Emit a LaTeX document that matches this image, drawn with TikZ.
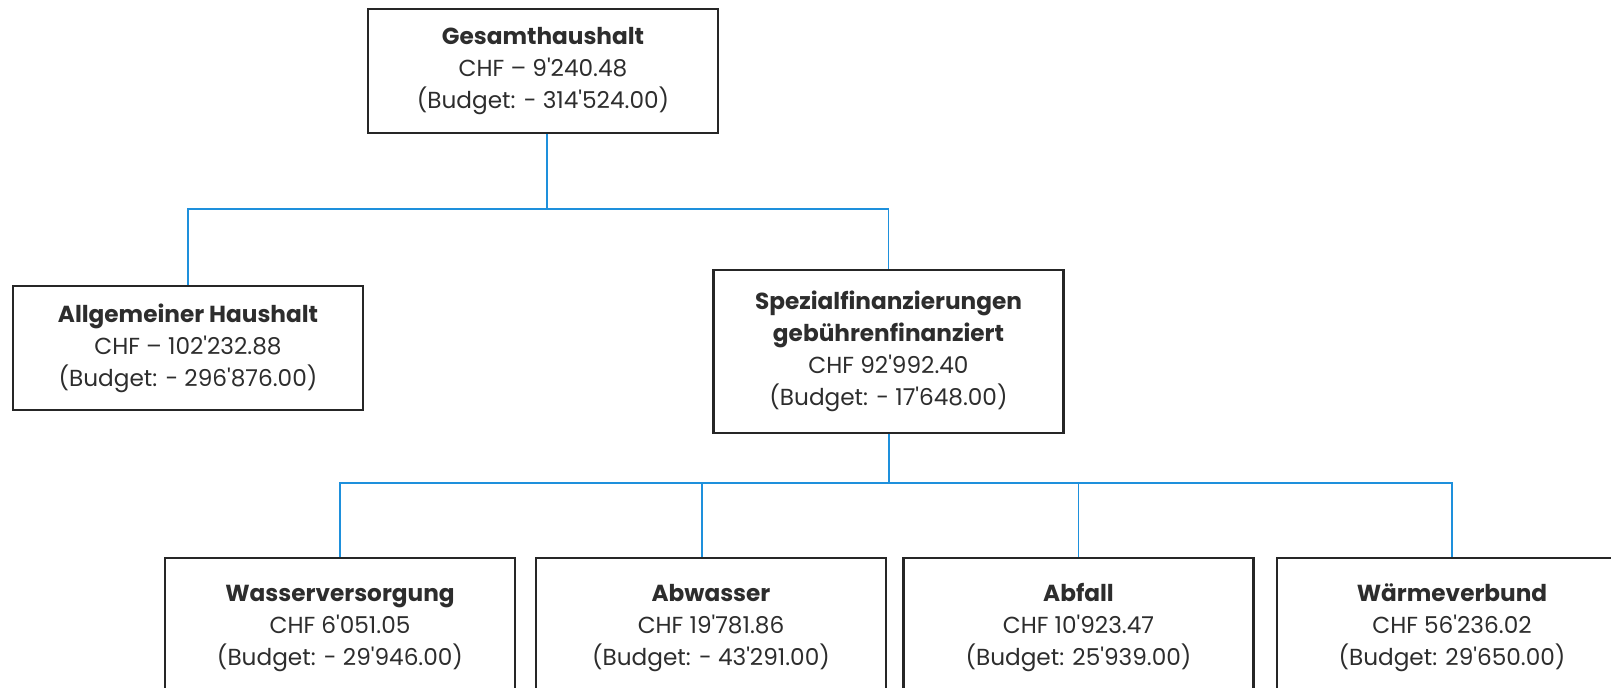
\documentclass[tikz,border=0pt]{standalone}
\usepackage{fontspec}
\setmainfont{Poppins}[Ligatures=TeXOff]
\definecolor{linkblue}{RGB}{30,144,220}
\definecolor{textgray}{RGB}{45,45,45}
\begin{document}
\begin{tikzpicture}[
x=0.02cm, y=-0.02cm,
font=\fontsize{13.2}{18.2}\selectfont,
box/.style={rectangle,draw=black!85,line width=1.3pt,text=textgray,align=center,inner sep=0pt,minimum width=7cm,minimum height=2.48cm},
highbox/.style={box,minimum height=3.26cm},
lowbox/.style={box,minimum height=2.8cm},
link/.style={draw=linkblue,line width=1.1pt},
]
\useasboundingbox (0,0) rectangle (1611,687);
\clip (0,0) rectangle (1611,687);

% Level 0
\node[box] (gesamt) at (543,71) {\textbf{Gesamthaushalt}\\CHF – 9'240.48\\(Budget: - 314'524.00)};

% Level 1
\node[box] (allg) at (188,348) {\textbf{Allgemeiner Haushalt}\\CHF – 102'232.88\\(Budget: - 296'876.00)};
\node[highbox] (spez) at (888.5,351.5) {\textbf{Spezialfinanzierungen}\\\textbf{gebührenfinanziert}\\CHF 92'992.40\\(Budget: - 17'648.00)};

% Level 2 (boxes run past the lower edge)
\node[lowbox] (wasser) at (340,628) {\textbf{Wasserversorgung}\\CHF 6'051.05\\(Budget: - 29'946.00)};
\node[lowbox] (abwasser) at (711,628) {\textbf{Abwasser}\\CHF 19'781.86\\(Budget: - 43'291.00)};
\node[lowbox] (abfall) at (1078.5,628) {\textbf{Abfall}\\CHF 10'923.47\\(Budget: 25'939.00)};
\node[lowbox] (waerme) at (1452,628) {\textbf{Wärmeverbund}\\CHF 56'236.02\\(Budget: 29'650.00)};

% Connectors
\coordinate (fork1) at (547,209);
\coordinate (fork2) at (889,483);

\draw[link] (gesamt.south -| fork1) -- (fork1) -| (allg.north);
\draw[link] (fork1) -| (spez.north);

\draw[link] (spez.south -| fork2) -- (fork2);
\draw[link] (fork2) -| (wasser.north);
\draw[link] (fork2) -| ([xshift=-0.18cm]abwasser.north);
\draw[link] (fork2) -| (abfall.north);
\draw[link] (fork2) -| (waerme.north);
\end{tikzpicture}
\end{document}
